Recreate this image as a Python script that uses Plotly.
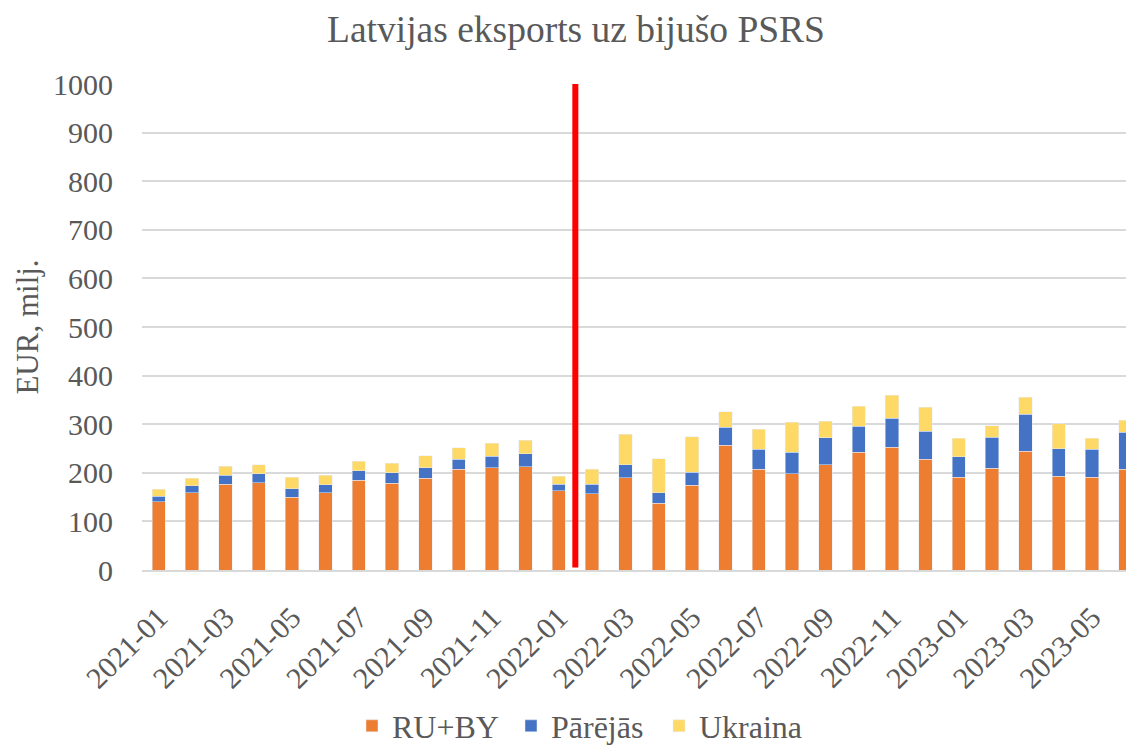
import plotly.graph_objects as go

months = ["2021-01","2021-02","2021-03","2021-04","2021-05","2021-06","2021-07","2021-08","2021-09","2021-10","2021-11","2021-12",
          "2022-01","2022-02","2022-03","2022-04","2022-05","2022-06","2022-07","2022-08","2022-09","2022-10","2022-11","2022-12",
          "2023-01","2023-02","2023-03","2023-04","2023-05","2023-06"]
ru_by = [140,159,176,180,150,159,185,179,189,207,210,212,163,157,190,137,174,257,207,198,217,242,253,228,191,209,244,193,191,207]
parejas = [12,14,19,18,17,16,19,21,21,21,24,27,13,19,27,22,27,37,41,44,55,54,59,58,42,64,76,56,57,76]
ukraina = [14,16,19,19,24,20,20,20,25,24,27,28,17,31,62,70,73,32,42,62,34,41,48,49,38,24,35,52,23,25]
tick_labels = months[::2]

FONT = "Liberation Serif"
GRAY = "#595959"

# the page body adds an 8px margin, so the figure is sized to the visible area
W, H = 1126, 739

fig = go.Figure()
fig.add_trace(go.Bar(x=months, y=ru_by, name="RU+BY", marker_color="#ED7D31", legendwidth=114))
fig.add_trace(go.Bar(x=months, y=parejas, name="Pārējās", marker_color="#4472C4", legendwidth=103))
fig.add_trace(go.Bar(x=months, y=ukraina, name="Ukraina", marker_color="#FFD966"))

fig.add_shape(type="line", xref="x", yref="y", x0=12.5, x1=12.5, y0=5, y1=1000,
              line=dict(color="#FF0000", width=6))

fig.update_layout(
    width=W, height=H,
    barmode="stack", bargap=0.6,
    plot_bgcolor="white", paper_bgcolor="white",
    font=dict(family=FONT, color=GRAY, size=30),
    margin=dict(l=134, r=0, t=76, b=177, autoexpand=False),
    title=dict(text="Latvijas eksports uz bijušo PSRS", x=568 / W, xref="container", xanchor="center",
               y=1 - 21 / H, yref="container", yanchor="middle",
               font=dict(family=FONT, size=37.5, color=GRAY)),
    legend=dict(orientation="h", x=344 / W, xref="container", xanchor="left",
                y=1 - 718 / H, yref="container", yanchor="middle",
                font=dict(family=FONT, size=32, color=GRAY), traceorder="normal"),
    xaxis=dict(type="category", categoryorder="array", categoryarray=months,
               range=[-0.5, 29.26], tickmode="array", tickvals=tick_labels, ticktext=tick_labels,
               tickangle=-45, showgrid=False, showline=True, linecolor="#d9d9d9", linewidth=2,
               ticks="", tickfont=dict(size=30), automargin=False, ticklabelstandoff=16),
    yaxis=dict(range=[0, 1000], dtick=100, showgrid=True, gridcolor="#d9d9d9", gridwidth=1.5,
               zeroline=False, showline=False, ticks="", tickfont=dict(size=30),
               ticklabelstandoff=28, automargin=False,
               title=dict(text="EUR, milj.", font=dict(size=31), standoff=5)),
)

fig.write_html("out.html")
